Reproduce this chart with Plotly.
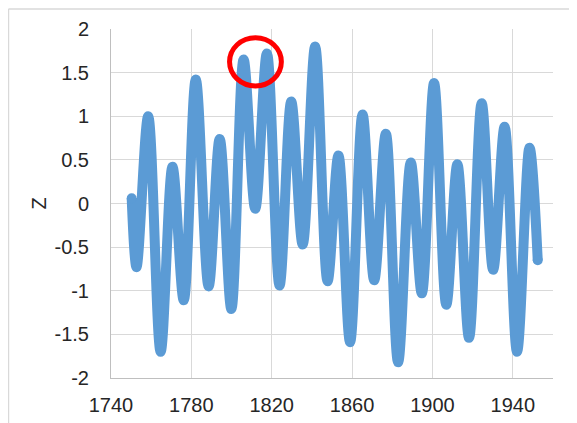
import plotly.graph_objects as go

# Extrema (and end points)
years = [1750.3, 1752.7, 1758.5, 1764.7, 1770.6, 1776.2, 1782.2, 1788.6, 1794.1,
         1799.9, 1806.0, 1811.8, 1817.6, 1823.9, 1829.7, 1835.4, 1841.6, 1847.8,
         1853.2, 1859.0, 1865.2, 1871.0, 1876.8, 1882.9, 1889.2, 1894.7, 1900.8,
         1906.9, 1912.4, 1918.2, 1924.5, 1930.2, 1935.9, 1942.1, 1948.3, 1952.4]
z = [0.06, -0.73, 1.00, -1.70, 0.42, -1.11, 1.42, -0.95, 0.74,
     -1.21, 1.65, -0.06, 1.72, -0.94, 1.17, -0.47, 1.80, -0.89,
     0.55, -1.59, 1.02, -0.88, 0.80, -1.82, 0.47, -1.03, 1.38,
     -1.16, 0.45, -1.54, 1.15, -0.76, 0.88, -1.70, 0.64, -0.65]

x_ticks = [1740, 1780, 1820, 1860, 1900, 1940]
x_labels = ["1740", "1780", "1820", "1860", "1900", "1940"]
y_ticks = [-2, -1.5, -1, -0.5, 0, 0.5, 1, 1.5, 2]
y_labels = ["-2", "-1.5", "-1", "-0.5", "0", "0.5", "1", "1.5", "2"]

BLUE = "#5B9BD5"
FONT = dict(family="Liberation Sans", size=20, color="#262626")

marker_sizes = [10] + [0] * (len(years) - 2) + [10]

fig = go.Figure()
fig.add_trace(go.Scatter(
    x=years, y=z, mode="lines+markers",
    line=dict(color=BLUE, width=10, shape="spline", smoothing=1.0),
    marker=dict(color=BLUE, size=marker_sizes, opacity=1, line=dict(width=0)),
    hoverinfo="skip", showlegend=False,
))

# Red highlight circle
fig.add_shape(type="circle", xref="x", yref="y",
              x0=1799.0, x1=1824.8, y0=1.347, y1=1.90,
              line=dict(color="#FF0000", width=5), layer="above")

# Chart-area border (left and top visible)
fig.add_shape(type="line", xref="paper", yref="paper",
              x0=-0.232, x1=-0.232, y0=1.057, y1=-0.3,
              line=dict(color="#D9D9D9", width=1.5))
fig.add_shape(type="line", xref="paper", yref="paper",
              x0=-0.232, x1=1.2, y0=1.057, y1=1.057,
              line=dict(color="#D9D9D9", width=1.5))

fig.update_layout(
    width=577, height=423,
    margin=dict(l=103, r=32, t=21, b=53, autoexpand=False),
    paper_bgcolor="white", plot_bgcolor="white",
    font=FONT,
    xaxis=dict(range=[1740, 1960], tickvals=x_ticks, ticktext=x_labels,
               showgrid=True, gridcolor="#D9D9D9", gridwidth=1,
               showline=True, linecolor="#BFBFBF", linewidth=1,
               ticks="outside", ticklen=9, tickcolor="rgba(0,0,0,0)",
               zeroline=False, tickfont=FONT, automargin=False),
    yaxis=dict(range=[-2, 2], tickvals=y_ticks, ticktext=y_labels,
               showgrid=True, gridcolor="#D9D9D9", gridwidth=1,
               showline=True, linecolor="#BFBFBF", linewidth=1,
               ticks="outside", ticklen=17, tickcolor="rgba(0,0,0,0)",
               zeroline=False, tickfont=FONT, automargin=False,
               title=dict(text="Z", font=FONT, standoff=2)),
)

fig.write_html("out.html")
